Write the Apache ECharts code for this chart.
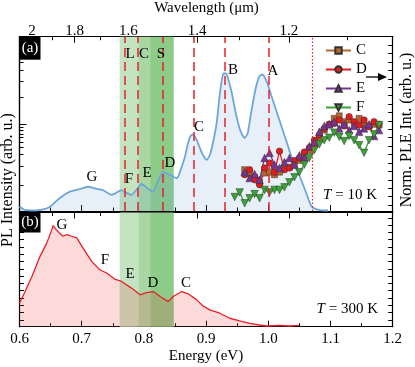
<!DOCTYPE html>
<html>
<head>
<meta charset="utf-8">
<script src="https://cdn.jsdelivr.net/npm/echarts@6/dist/echarts.min.js"></script>
<style>
html, body { margin: 0; padding: 0; background: #fff; }
#main { width: 415px; height: 367px; }
</style>
</head>
<body>
<div id="main"></div>
<script>
var HC = 1.23984; // eV * um

// PL spectrum at 10 K (top panel), arb. u.
var pl10E = [0.600, 0.609, 0.625, 0.638, 0.649, 0.665, 0.681, 0.697, 0.710, 0.721, 0.734, 0.748, 0.755, 0.764, 0.771, 0.780, 0.789, 0.796, 0.805, 0.815, 0.822, 0.831, 0.842, 0.853, 0.859, 0.866, 0.871, 0.875, 0.879, 0.885, 0.890, 0.895, 0.901, 0.906, 0.911, 0.917, 0.921, 0.925, 0.928, 0.932, 0.936, 0.941, 0.946, 0.951, 0.956, 0.962, 0.967, 0.971, 0.976, 0.981, 0.986, 0.990, 0.994, 0.999, 1.005, 1.013, 1.021, 1.029, 1.039, 1.051, 1.061, 1.069, 1.078, 1.086, 1.096];
var pl10I = [2.5, 0.6, 0.3, 0.9, 2.5, 7.5, 11.1, 12.6, 13.9, 13.0, 12.0, 9.2, 10.3, 12.0, 10.6, 9.2, 12.6, 15.5, 13.2, 11.1, 16.6, 22.5, 20.7, 18.8, 23.5, 31.2, 39.0, 43.0, 43.9, 40.7, 36.1, 32.1, 29.3, 32.1, 39.0, 50.5, 63.7, 74.6, 78.9, 78.9, 75.2, 68.3, 59.1, 51.1, 45.3, 41.9, 44.8, 53.4, 63.7, 72.3, 77.5, 78.3, 76.9, 72.9, 66.0, 57.4, 48.8, 40.2, 29.3, 19.5, 10.3, 2.9, 0.9, 0.4, 0.3];

// PL spectrum at 300 K (bottom panel)
var pl300E = [0.600, 0.609, 0.620, 0.633, 0.644, 0.652, 0.654, 0.659, 0.664, 0.670, 0.676, 0.684, 0.692, 0.702, 0.716, 0.729, 0.740, 0.753, 0.764, 0.780, 0.794, 0.804, 0.815, 0.826, 0.839, 0.847, 0.861, 0.871, 0.885, 0.895, 0.906, 0.922, 0.938, 0.954, 0.970, 0.986, 0.997, 1.018, 1.034, 1.049];
var pl300I = [20.6, 30.8, 44.0, 61.6, 73.4, 85.0, 88.6, 85.0, 82.1, 79.2, 80.7, 79.2, 77.7, 69.0, 57.2, 49.9, 47.0, 41.7, 39.6, 33.8, 27.9, 29.9, 30.8, 26.4, 22.0, 26.4, 30.8, 28.8, 23.5, 18.2, 14.7, 11.8, 7.4, 5.0, 3.0, 1.5, 0.6, 1.1, 0.6, 1.1];

// normalised PLE (right axis of top panel)
var pleE = [0.946, 0.954, 0.962, 0.970, 0.978, 0.986, 0.994, 1.002, 1.010, 1.018, 1.026, 1.034, 1.042, 1.050, 1.058, 1.066, 1.074, 1.082, 1.090, 1.098, 1.106, 1.114, 1.122, 1.130, 1.138, 1.146, 1.154, 1.162, 1.170, 1.178];
var pleC = [null, null, 4.2, 3.8, 3.3, 2.7, 3.8, 3.9, 3.6, 3.9, 4.4, 4.5, 4.8, 5.3, 5.9, 6.5, 7.1, 8.0, 8.9, 9.5, 10.3, 10.6, 9.9, 10.1, 9.6, 10.3, 9.5, 9.4, 9.6, 9.5];
var pleD = [null, null, 3.6, 4.2, 3.0, 2.4, 4.4, 5.0, 3.9, 6.4, 4.2, 4.4, 5.3, 5.6, 6.3, 6.8, 7.7, 8.3, 9.1, 9.6, 9.7, 10.1, 9.4, 10.5, 9.9, 9.5, 10.1, 9.3, 9.9, 9.6];
var pleEser = [null, null, 3.9, 3.2, 3.7, 3.0, 5.6, 6.2, 4.8, 4.4, 5.1, 5.6, 4.8, 5.9, 5.6, 7.0, 7.5, 8.7, 9.4, 9.6, 9.9, 9.1, 9.6, 8.9, 9.4, 8.7, 9.1, 9.6, 8.2, 8.9];
var pleF = [0.95, 1.5, 0.2, 0.8, 1.3, 0.8, 1.8, 1.5, 1.8, 1.8, 2.1, 2.7, 3.3, 3.9, 4.8, 5.6, 6.5, 7.2, 7.7, 8.0, 8.6, 8.1, 7.6, 8.2, 7.7, 7.1, 6.2, 7.7, 8.4, 9.5];

// marked energies and telecom bands
var dashE = [0.766, 0.794, 0.831, 0.878, 0.932, 0.996];
var dotE = [1.069];
var bandNames = ['L', 'C', 'S'];
var bandFrom = [0.761, 0.791, 0.810];
var bandTo = [0.791, 0.810, 0.848];

// wavelength ticks (um)
var wlMajor = [2.0, 1.8, 1.6, 1.4, 1.2];
var wlMinor = [1.9, 1.7, 1.5, 1.3, 1.1];

// y-axis tick sets (no labels on these axes)
var topLeftTicks = [14.9, 25.4, 32.5, 36.5, 39.4, 42.1, 44.2, 46.5, 48.2, 65.0, 74.2, 80.5, 85.3];
var topLeftMajor = [49.7];
var topRightTicks = [0, 1, 2, 3, 4, 5, 6, 7, 8, 9, 10, 11, 12, 13, 14, 15, 16, 17, 18, 19];
var botTicks = [5.9, 12.3, 18.7, 25.1, 31.5, 37.9, 44.2, 50.6, 57.0, 63.4, 69.8, 76.2, 82.6, 89.0, 95.4];

var FONT = 'Liberation Serif';
var bandColors = ['#c4e4c1', '#a8d7a4', '#8dcb89'];

function pairs(xs, ys) {
	var out = [];
	for (var i = 0; i < xs.length; i++) {
		if (ys[i] !== null) out.push([xs[i], ys[i]]);
	}
	return out;
}
function toE(list) {
	return list.map(function(l) { return HC / l; });
}

var chart = echarts.init(document.getElementById('main'));

var lineBlack = { show: true, onZero: false, lineStyle: { color: '#000', width: 1.2 } };
var tickBlack = { color: '#000' };

function xAx(grid, pos, opts) {
	var a = {
		type: 'value', gridIndex: grid, position: pos, min: 0.6, max: 1.2, interval: 0.1,
		axisLine: lineBlack, splitLine: { show: false },
		axisTick: { show: true, inside: true, length: 6, lineStyle: tickBlack },
		axisLabel: { show: false }
	};
	for (var k in opts) a[k] = opts[k];
	return a;
}
function yAx(grid, pos, min, max, ticks, len) {
	return {
		type: 'value', gridIndex: grid, position: pos, min: min, max: max,
		axisLine: lineBlack, splitLine: { show: false },
		axisTick: { show: true, inside: true, length: len, customValues: ticks, lineStyle: tickBlack },
		axisLabel: { show: false }
	};
}

var bandArea = [];
for (var i = 0; i < bandNames.length; i++) {
	bandArea.push([{ xAxis: bandFrom[i], itemStyle: { color: bandColors[i] } }, { xAxis: bandTo[i] }]);
}

function pleSeries(name, ys, color, symbol, size, rot) {
	return {
		name: name, type: 'line', xAxisIndex: 0, yAxisIndex: 1, z: 4,
		data: pairs(pleE, ys), symbol: symbol, symbolSize: size, symbolRotate: rot || 0,
		showAllSymbol: true,
		lineStyle: { color: color, width: 1.3 },
		itemStyle: { color: color, borderColor: '#333', borderWidth: 0.5 }
	};
}

function txt(s, x, y, size, fill, rot) {
	return {
		type: 'text', x: x, y: y, z: 100, rotation: rot || 0,
		style: { text: s, font: (size || 15) + 'px "' + FONT + '"', fill: fill || '#000', textAlign: 'center', textVerticalAlign: 'middle' }
	};
}
function tempText(s, x, y) {
	return {
		type: 'text', x: x, y: y, z: 100,
		style: {
			text: '{i|T} = ' + s, fontFamily: FONT, fontSize: 15, fill: '#000',
			textAlign: 'right', textVerticalAlign: 'middle',
			rich: { i: { fontStyle: 'italic', fontFamily: FONT, fontSize: 15 } }
		}
	};
}

var graphics = [
	{ type: 'rect', z: 100, shape: { x: 19.5, y: 36.7, width: 21, height: 23 }, style: { fill: '#000' } },
	txt('(a)', 30, 48.5, 15, '#fff'),
	{ type: 'rect', z: 100, shape: { x: 19.5, y: 212.5, width: 21, height: 20 }, style: { fill: '#000' } },
	txt('(b)', 30, 222.5, 15, '#fff'),
	txt('Wavelength (μm)', 206.5, 8, 15),
	txt('Energy (eV)', 206, 356.5, 15),
	txt('PL Intensity (arb. u.)', 8, 180, 16, null, Math.PI / 2),
	txt('Norm. PLE Int. (arb. u.)', 407, 130, 16, null, Math.PI / 2),
	txt('L', 130, 54), txt('C', 144, 54), txt('S', 161, 54),
	txt('A', 273, 71), txt('B', 233, 70), txt('C', 199, 127), txt('D', 170, 163),
	txt('E', 147, 173), txt('F', 129, 179), txt('G', 92, 177),
	txt('G', 62, 225), txt('F', 105, 260), txt('E', 130, 274), txt('D', 153, 283), txt('C', 186, 283),
	tempText('10 K', 377, 195),
	tempText('300 K', 378, 309),
	{ type: 'line', z: 100, shape: { x1: 366, y1: 77, x2: 379, y2: 77 }, style: { stroke: '#000', lineWidth: 1.3 } },
	{ type: 'polygon', z: 100, shape: { points: [[378, 73], [387, 77], [378, 81]] }, style: { fill: '#000' } }
];

var option = {
	animation: false,
	backgroundColor: '#fff',
	textStyle: { fontFamily: FONT },
	grid: [
		{ left: 19.5, top: 36.7, width: 373.2, height: 174.3 },
		{ left: 19.5, top: 212.5, width: 373.2, height: 114.2 }
	],
	legend: {
		data: ['C', 'D', 'E', 'F'], orient: 'vertical', left: 325, top: 43, height: 120,
		padding: 0, itemWidth: 25, itemHeight: 8, itemGap: 4,
		textStyle: { fontFamily: FONT, fontSize: 15, lineHeight: 14.5, color: '#000' }
	},
	xAxis: [
		xAx(0, 'bottom', { minorTick: { show: true, splitNumber: 2, length: 3.5, lineStyle: tickBlack } }),
		xAx(0, 'top', {
			axisTick: { show: true, inside: true, length: 6, customValues: toE(wlMajor), lineStyle: tickBlack },
			axisLabel: {
				show: true, customValues: toE(wlMajor), margin: -2, fontFamily: FONT, fontSize: 15, color: '#000',
				formatter: function(v) { return String(Math.round(HC / v * 10) / 10); }
			}
		}),
		xAx(1, 'bottom', {
			minorTick: { show: true, splitNumber: 2, length: 3.5, lineStyle: tickBlack },
			axisLabel: {
				show: true, margin: 5, fontFamily: FONT, fontSize: 15, color: '#000',
				formatter: function(v) { return v.toFixed(1); }
			}
		}),
		xAx(1, 'top', { axisTick: { show: true, inside: true, length: 6, customValues: toE(wlMajor), lineStyle: tickBlack } }),
		xAx(0, 'top', { axisTick: { show: true, inside: true, length: 3.5, customValues: toE(wlMinor), lineStyle: tickBlack } }),
		xAx(1, 'top', { axisTick: { show: true, inside: true, length: 3.5, customValues: toE(wlMinor), lineStyle: tickBlack } })
	],
	yAxis: [
		yAx(0, 'left', 0, 100, topLeftTicks, 4),
		yAx(0, 'right', -0.71, 20, topRightTicks, 4.5),
		yAx(1, 'left', 0, 100, botTicks, 4.5),
		yAx(1, 'right', 0, 100, botTicks, 4.5),
		yAx(0, 'left', 0, 100, topLeftMajor, 7)
	],
	graphic: graphics,
	series: [
		{
			name: 'bands10', type: 'line', xAxisIndex: 0, yAxisIndex: 0, data: [], z: 1,
			markArea: { silent: true, data: bandArea }
		},
		{
			name: 'bands300', type: 'line', xAxisIndex: 2, yAxisIndex: 2, data: [], z: 1,
			markArea: { silent: true, data: bandArea }
		},
		{
			name: 'PL 10 K', type: 'line', xAxisIndex: 0, yAxisIndex: 0, z: 2,
			data: pairs(pl10E, pl10I), smooth: 0.2, showSymbol: false,
			lineStyle: { color: '#6ea6d8', width: 1.8 },
			areaStyle: { color: 'rgba(100,160,215,0.22)' }
		},
		{
			name: 'marks', type: 'line', xAxisIndex: 0, yAxisIndex: 0, data: [], z: 3,
			markLine: {
				silent: true, symbol: 'none', label: { show: false },
				data: dashE.map(function(e) {
					return { xAxis: e, lineStyle: { color: '#e8202a', width: 1.5, type: [9, 5] } };
				}).concat(dotE.map(function(e) {
					return { xAxis: e, lineStyle: { color: '#e8202a', width: 1.2, type: [1.5, 2] } };
				}))
			}
		},
		pleSeries('C', pleC, '#b8662e', 'rect', 6),
		pleSeries('D', pleD, '#e41a1c', 'circle', 6.5),
		pleSeries('E', pleEser, '#7b3294', 'triangle', 7.5),
		pleSeries('F', pleF, '#3aa335', 'triangle', 7.5, 180),
		{
			name: 'PL 300 K', type: 'line', xAxisIndex: 2, yAxisIndex: 2, z: 2,
			data: pairs(pl300E, pl300I), showSymbol: false,
			lineStyle: { color: '#e8202a', width: 1.3 },
			areaStyle: { color: 'rgba(240,60,60,0.27)' }
		}
	]
};

chart.setOption(option);
</script>
</body>
</html>
